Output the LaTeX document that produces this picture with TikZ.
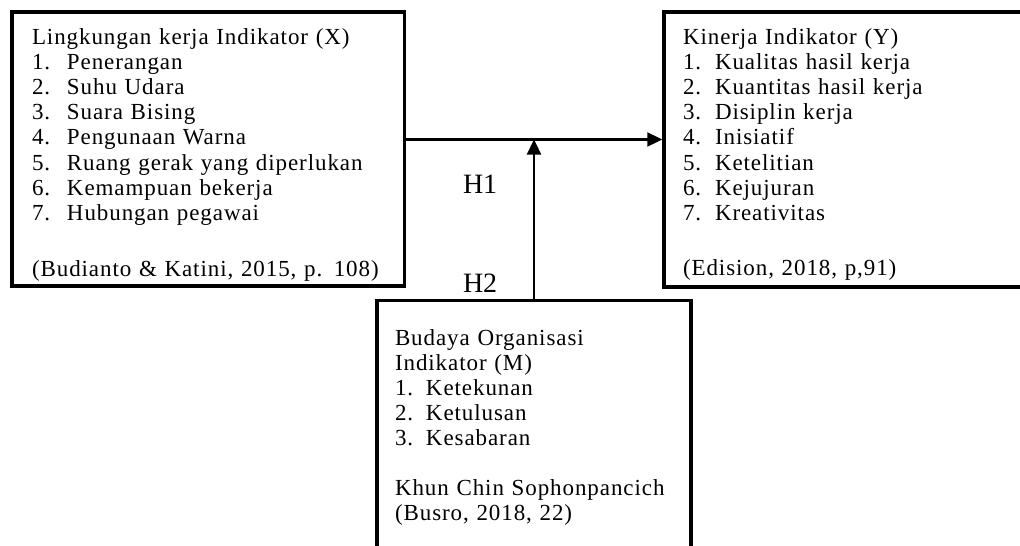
\documentclass[tikz,border=0pt]{standalone}
\usepackage{fontspec}
\setmainfont{Liberation Serif}
\newfontfamily\boxfont[LetterSpace=4]{Liberation Serif}
\usetikzlibrary{arrows.meta}
\newcommand\numlab[2][34pt]{\makebox[#1][l]{#2}}
\begin{document}
\begin{tikzpicture}[x=1pt,y=-1pt,
  box/.style={draw, rectangle, line width=3.5pt, outer sep=0pt, inner sep=0pt, anchor=north west},
  txt/.style={anchor=base west, inner sep=0pt, outer sep=0pt, align=left, text width=#1,
    font=\boxfont\fontsize{23pt}{25.2pt}\selectfont},
  hlabel/.style={anchor=base west, inner sep=0pt, outer sep=0pt, font=\fontsize{28pt}{30pt}\selectfont},
  link/.style={line width=2.3pt, -{Triangle[length=15pt,width=14pt]}}
]
\useasboundingbox (0,0) rectangle (1020,546);
\begin{scope}
\clip (0,0) rectangle (1020,546);
% boxes
\node[box, minimum width=392.5pt, minimum height=274pt] (X) at (12,12) {};
\node[box, minimum width=370pt, minimum height=275pt] (Y) at (664,12) {};
\node[box, minimum width=314pt, minimum height=300pt] (M) at (377,300.5) {};
\end{scope}
% junction
\path (M.north) ++(0,-161) coordinate (J);
% connectors
\draw[link, shorten >=1.75pt] (X.east |- J) -- (Y.west |- J);
\draw[link] (M.north) -- (J);
% labels
\node[hlabel] (H1) at (463,193) {H1};
\node[hlabel] (H2) at (463,292) {H2};
% texts
\node[txt=370pt] (Xt) at (32,44) {Lingkungan kerja Indikator (X)\\
\numlab[35pt]{1.}Penerangan\\
\numlab[35pt]{2.}Suhu Udara\\
\numlab[35pt]{3.}Suara Bising\\
\numlab[35pt]{4.}Pengunaan Warna\\
\numlab[35pt]{5.}Ruang gerak yang diperlukan\\
\numlab[35pt]{6.}Kemampuan bekerja\\
\numlab[35pt]{7.}Hubungan pegawai\\[31.4pt]
(Budianto \& Katini, 2015, p. 108)};
\node[txt=330pt] (Yt) at (683,44) {Kinerja Indikator (Y)\\
\numlab[32pt]{1.}Kualitas hasil kerja\\
\numlab[32pt]{2.}Kuantitas hasil kerja\\
\numlab[32pt]{3.}Disiplin kerja\\
\numlab[32pt]{4.}Inisiatif\\
\numlab[32pt]{5.}Ketelitian\\
\numlab[32pt]{6.}Kejujuran\\
\numlab[32pt]{7.}Kreativitas\\[29.4pt]
(Edision, 2018, p,91)};
\node[txt=290pt] (Mt) at (395,345) {Budaya Organisasi\\
Indikator (M)\\
\numlab[31pt]{1.}Ketekunan\\
\numlab[31pt]{2.}Ketulusan\\
\numlab[31pt]{3.}Kesabaran\\[24pt]
Khun Chin Sophonpancich\\
(Busro, 2018, 22)};
\end{tikzpicture}
\end{document}
